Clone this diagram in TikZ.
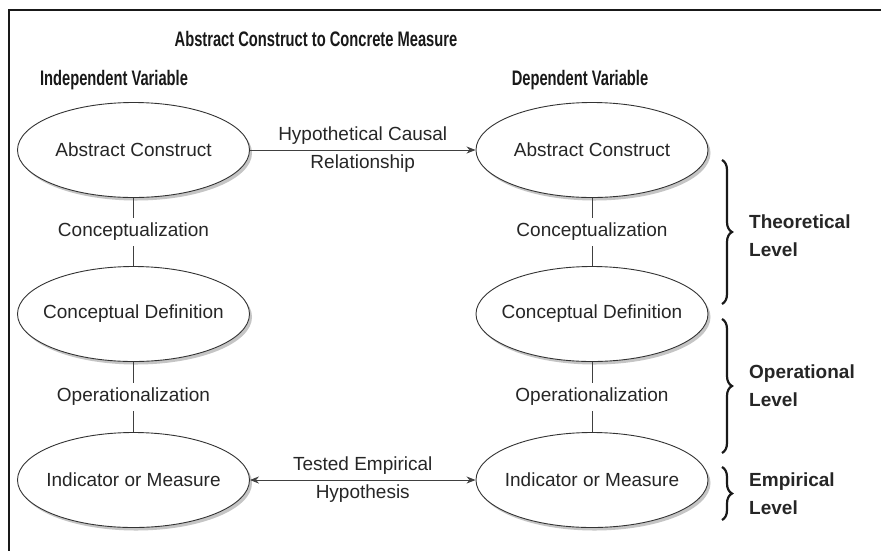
\documentclass[tikz,border=0pt]{standalone}
\usepackage{fontspec}
\usepackage{graphicx}
\setmainfont{Liberation Sans}
\usetikzlibrary{shapes.geometric,arrows.meta,decorations.pathreplacing,shadows}
\newcommand\condtext[1]{\scalebox{0.7}[1]{#1}}
\newcommand\ovaltext[1]{\makebox[0pt]{#1}}
\tikzset{
  oval/.style={ellipse, draw=black!80, line width=0.9pt, fill=white,
    minimum width=232pt, minimum height=95pt, inner sep=0pt,
    font=\fontsize{19}{22}\selectfont, text=black!85,
    drop shadow={shadow xshift=2.5pt, shadow yshift=-3pt, fill=black!45}},
  link/.style={draw=black!75, line width=0.8pt},
  linklabel/.style={fill=white, inner sep=5pt, font=\fontsize{19}{22}\selectfont, text=black!85},
  arrowlabel/.style={align=center, inner sep=0pt, font=\fontsize{19}{28}\selectfont, text=black!85},
  head/.style={font=\bfseries\fontsize{21}{24}\selectfont, text=black!90, inner sep=0pt},
  levelbrace/.style={draw=black!90, line width=2.2pt, decorate, decoration={brace, amplitude=10pt}},
  levellabel/.style={font=\bfseries\fontsize{19}{28}\selectfont, text=black!85, align=left, anchor=west, inner sep=0pt},
  tip/.style={-{Stealth[length=9pt,width=7pt]}},
  dtip/.style={{Stealth[length=9pt,width=7pt]}-{Stealth[length=9pt,width=7pt]}}
}
\begin{document}
\begin{tikzpicture}[x=1pt,y=-1pt]
\useasboundingbox (0,0) rectangle (881,550);
\fill[white] (0,0) rectangle (881,550);
% frame
\draw[line width=1.6pt, black!90] (9,552) |- (883,10);
% headings
\node[head] (title) at (316,39) {\condtext{Abstract Construct to Concrete Measure}};
\node[head] (iv) at (114,80) {\condtext{Independent Variable}};
\node[head] (dv) at (580,80) {\condtext{Dependent Variable}};
% ellipses
\node[oval] (ac1) at (133.5,150) {\ovaltext{Abstract Construct}};
\node[oval] (cd1) at (133.5,314) {\ovaltext{Conceptual Definition}};
\node[oval] (im1) at (133.5,480) {\ovaltext{Indicator or Measure}};
\node[oval] (ac2) at (592,150) {\ovaltext{Abstract Construct}};
\node[oval] (cd2) at (592,314) {\ovaltext{Conceptual Definition}};
\node[oval] (im2) at (592,480) {\ovaltext{Indicator or Measure}};
% vertical links
\draw[link] (ac1) -- (cd1) node[midway, linklabel] {Conceptualization};
\draw[link] (cd1) -- (im1) node[midway, linklabel] {Operationalization};
\draw[link] (ac2) -- (cd2) node[midway, linklabel] {Conceptualization};
\draw[link] (cd2) -- (im2) node[midway, linklabel] {Operationalization};
% horizontal arrows
\draw[link, tip] (ac1) -- (ac2) node[midway, arrowlabel] {Hypothetical Causal\\Relationship};
\draw[link, dtip] (im1) -- (im2) node[midway, arrowlabel] {Tested Empirical\\Hypothesis};
% braces
\coordinate (b1t) at (722,160);
\coordinate (b1b) at (722,304);
\coordinate (b2t) at (722,319);
\coordinate (b2b) at (722,453);
\coordinate (b3t) at (722,467);
\coordinate (b3b) at (722,520);
\draw[levelbrace] (b1t) -- (b1b);
\draw[levelbrace] (b2t) -- (b2b);
\draw[levelbrace] (b3t) -- (b3b);
\node[levellabel] (l1) at (749,236) {Theoretical\\Level};
\node[levellabel] (l2) at (749,386) {Operational\\Level};
\node[levellabel] (l3) at (749,494) {Empirical\\Level};
\end{tikzpicture}
\end{document}
